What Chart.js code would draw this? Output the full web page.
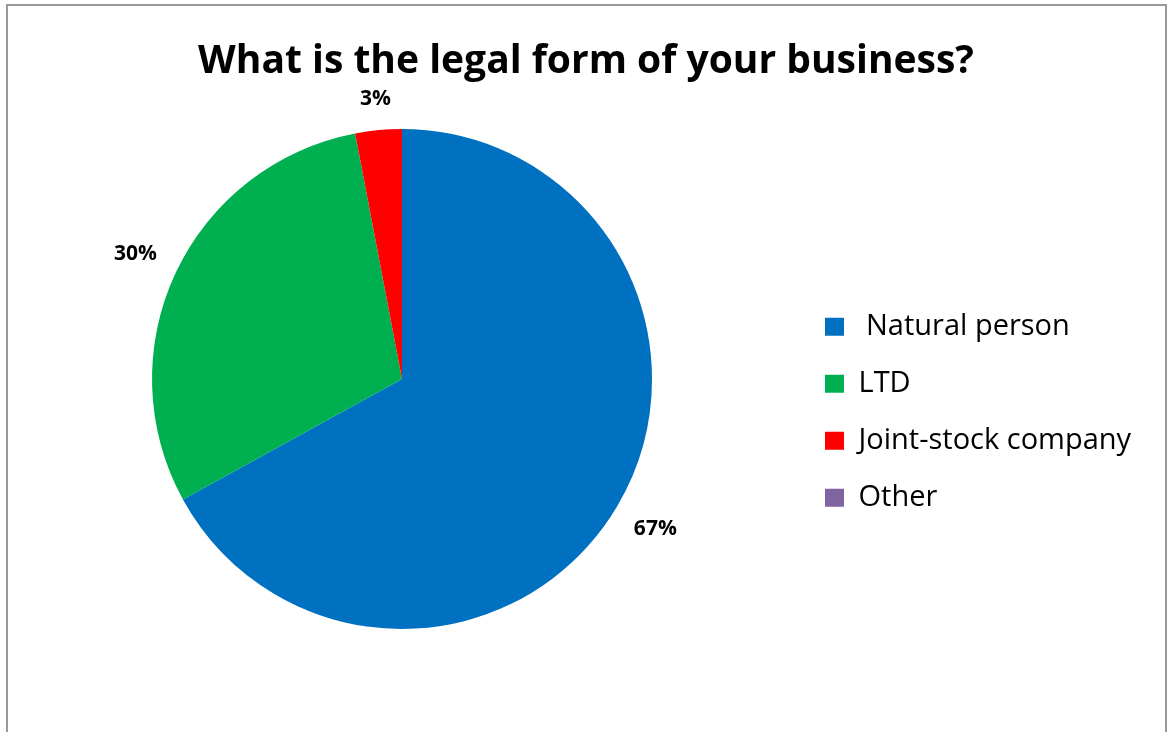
<!DOCTYPE html>
<html>
<head>
<meta charset="utf-8">
<script src="https://cdn.jsdelivr.net/npm/chart.js@4"></script>
<style>
  html, body { margin: 0; padding: 0; background: #fff; overflow: hidden; width: 1167px; height: 732px; }
  #frame { position: absolute; left: 6px; top: 4px; width: 1161px; height: 800px; box-sizing: border-box; border: 2px solid #999; }
  #wrap { position: absolute; left: 0; top: 0; width: 1167px; height: 732px; }
</style>
</head>
<body>
<div id="frame"></div>
<div id="wrap"><canvas id="c"></canvas></div>
<script>
// Survey question and answers
const titleText = 'What is the legal form of your business?';
const categories = [' Natural person', 'LTD', 'Joint-stock company', 'Other'];
const shares = [67, 30, 3, 0];
const sliceColors = ['#0070C0', '#00B050', '#FF0000', '#8064A2'];

// Horizontal room reserved on the right for the legend column
const legendColumnWidth = 368;

Chart.defaults.font.family = "'Open Sans', sans-serif";

// Percentage labels placed just outside each slice
const outsideLabels = {
  id: 'outsideLabels',
  afterDatasetsDraw(chart, args, opts) {
    const { ctx } = chart;
    const meta = chart.getDatasetMeta(0);
    const values = chart.data.datasets[0].data;
    ctx.save();
    ctx.font = `bold ${opts.size}px 'Open Sans', sans-serif`;
    ctx.fillStyle = opts.color;
    ctx.textAlign = 'center';
    ctx.textBaseline = 'middle';
    meta.data.forEach((arc, i) => {
      const v = values[i];
      if (!v) return;
      const p = arc.getProps(['x', 'y', 'startAngle', 'endAngle', 'outerRadius'], true);
      const mid = (p.startAngle + p.endAngle) / 2;
      const text = v + '%';
      const hw = ctx.measureText(text).width / 2;
      const hh = opts.size * 0.36;
      const c = Math.cos(mid), s = Math.sin(mid);
      const d = p.outerRadius + opts.gap + hw * Math.abs(c) + hh * Math.abs(s);
      ctx.fillText(text, p.x + d * c, p.y + d * s);
    });
    ctx.restore();
  }
};

// Empty layout box beyond the legend, so legend + box fill a fixed column
const legendGap = {
  id: 'legendGap',
  beforeInit(chart) {
    const box = {
      position: 'right', weight: 2000, fullSize: false, options: {},
      left: 0, top: 0, right: 0, bottom: 0, width: 0, height: 0,
      isHorizontal() { return false; },
      update(maxWidth, maxHeight) {
        const lw = chart.legend ? chart.legend.width : 0;
        this.width = Math.max(0, legendColumnWidth - lw);
        this.height = maxHeight;
      },
      draw() {}
    };
    Chart.layouts.addBox(chart, box);
  }
};

function drawChart() {
  new Chart(document.getElementById('c'), {
    type: 'pie',
    data: {
      labels: categories,
      datasets: [{ data: shares, backgroundColor: sliceColors, borderWidth: 0 }]
    },
    options: {
      responsive: true,
      maintainAspectRatio: false,
      animation: false,
      events: [],
      layout: { padding: { left: 7, right: 2, top: 0, bottom: 103 } },
      plugins: {
        title: {
          display: true, text: titleText, color: '#000', fullSize: true,
          font: { size: 39, weight: 'bold' },
          padding: { top: 38.3, bottom: 43.9 }
        },
        legend: {
          position: 'right', fullSize: false, align: 'center',
          maxWidth: legendColumnWidth,
          title: { display: true, text: '', padding: { top: 52, bottom: 0 }, font: { size: 12 } },
          labels: {
            boxWidth: 19, boxHeight: 18, padding: 28, color: '#000',
            font: { size: 29 }
          }
        },
        tooltip: { enabled: false },
        outsideLabels: { size: 21, gap: 22, color: '#000' }
      }
    },
    plugins: [outsideLabels, legendGap]
  });
}

Promise.all([
  document.fonts.load("29px 'Open Sans'"),
  document.fonts.load("bold 39px 'Open Sans'")
]).then(drawChart, drawChart);
</script>
</body>
</html>
